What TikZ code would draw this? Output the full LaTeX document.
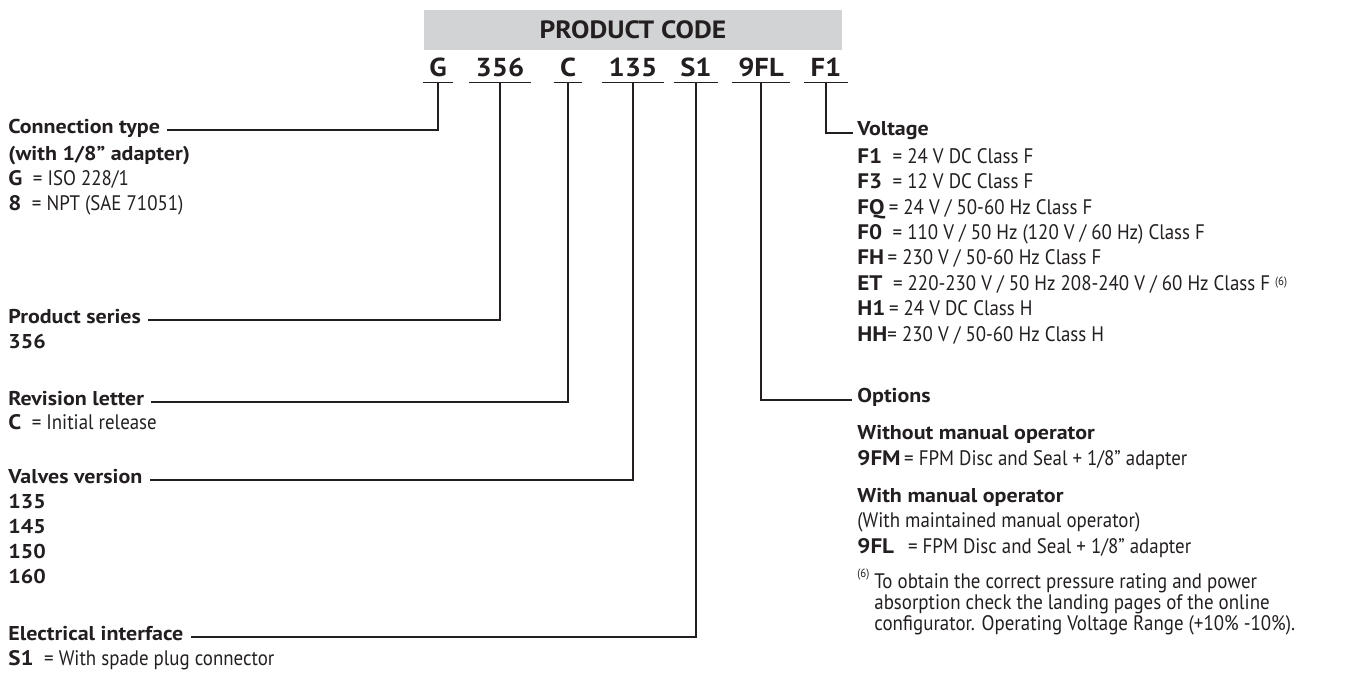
\documentclass[tikz,border=0pt]{standalone}
\usepackage{fontspec}
\setmainfont{PT Sans}[FakeStretch=0.9, BoldFeatures={FakeStretch=1.1}]
\definecolor{ink}{HTML}{231F20}
\definecolor{boxgray}{HTML}{D1D3D4}
\tikzset{
  rule/.style={draw=ink, line width=0.85pt},
  codebox/.style={font=\bfseries\fontsize{13}{15}\selectfont, text=ink, anchor=base,
    inner xsep=3pt, inner ysep=3pt, text depth=0pt},
  head/.style={anchor=west, font=\bfseries, text=ink, inner sep=0pt, text height=7pt, text depth=2pt},
  item/.style={anchor=west, text=ink, inner sep=0pt, text height=7pt, text depth=2pt},
}
\begin{document}
\begin{tikzpicture}[x=0.5pt,y=-0.5pt,font=\fontsize{10.5}{12}\selectfont]
  \useasboundingbox (0,0) rectangle (1351,675);
  % product code header
  \node[fill=boxgray, text=ink, font=\bfseries\fontsize{12.5}{15}\selectfont,
    minimum width=209pt, minimum height=20pt, inner sep=0pt] (hdr) at (633,30) {PRODUCT CODE};
  \node[codebox] (cG) at (438,76) {G};
  \node[codebox] (c356) at (500,76) {356};
  \node[codebox] (cC) at (568,76) {C};
  \node[codebox] (c135) at (633,76) {135};
  \node[codebox] (cS1) at (696,76) {S1};
  \node[codebox] (c9FL) at (761,76) {9FL};
  \node[codebox] (cF1) at (826,76) {F1};
  \foreach \c in {cG,c356,cC,c135,cS1,c9FL,cF1} {
    \draw[rule] (\c.south west) -- (\c.south east);
  }

  % left column
  \node[head] (lCon) at (8,128) {Connection type};
  \node[head] (lCon2) at (8,155) {(with 1/8” adapter)};
  \node[item] (lConG) at (8,180) {\textbf{G}\enspace= ISO 228/1};
  \node[item] (lCon8) at (8,205) {\textbf{8}\enspace= NPT (SAE 71051)};

  \node[head] (lSer) at (8,318) {Product series};
  \node[head] (lSer2) at (8,343) {356};

  \node[head] (lRev) at (8,400) {Revision letter};
  \node[item] (lRevC) at (8,424) {\textbf{C}\enspace= Initial release};

  \node[head] (lVal) at (8,478) {Valves version};
  \foreach \v [count=\i] in {135,145,150,160}
    \node[head] (lVal\v) at (8,{478+25*\i}) {\v};

  \node[head] (lEle) at (8,635) {Electrical interface};
  \node[item] (lEleS) at (8,660) {\textbf{S1}\enspace= With spade plug connector};

  % right column
  \node[head] (lVolt) at (857,130) {Voltage};
  \node[item] (vF1) at (857,158) {\textbf{F1}\enspace= 24 V DC Class F};
  \node[item] (vF3) at (857,183) {\textbf{F3}\enspace= 12 V DC Class F};
  \node[item] (vFQ) at (857,209) {\textbf{FQ}\,= 24 V / 50-60 Hz Class F};
  \node[item] (vF0) at (857,234) {\textbf{F0}\enspace= 110 V / 50 Hz (120 V / 60 Hz) Class F};
  \node[item] (vFH) at (857,259) {\textbf{FH}\,= 230 V / 50-60 Hz Class F};
  \node[item] (vET) at (857,285) {\textbf{ET}\enspace= 220-230 V / 50 Hz 208-240 V / 60 Hz Class F {\fontsize{6}{7}\selectfont\raisebox{2.5pt}{(6)}}};
  \node[item] (vH1) at (857,310) {\textbf{H1}\,= 24 V DC Class H};
  \node[item] (vHH) at (857,336) {\textbf{HH}= 230 V / 50-60 Hz Class H};

  \node[head] (lOpt) at (857,397) {Options};
  \node[head] (lOpt1) at (857,434) {Without manual operator};
  \node[item] (lOpt9FM) at (857,460) {\textbf{9FM}\,= FPM Disc and Seal + 1/8” adapter};
  \node[head] (lOpt2) at (857,497) {With manual operator};
  \node[item] (lOpt2b) at (857,522) {(With maintained manual operator)};
  \node[item] (lOpt9FL) at (857,548) {\textbf{9FL}\enspace\,= FPM Disc and Seal + 1/8” adapter};

  \node[text=ink, font=\fontsize{6}{7}\selectfont, anchor=west, inner sep=0pt] (fnMark) at (857,575) {(6)};
  \node[text=ink, anchor=north west, align=left, inner sep=0pt,
    font=\fontsize{10.5}{10.5}\selectfont] (fnText) at (874,573)
    {To obtain the correct pressure rating and power\\
     absorption check the landing pages of the online\\
     configurator. Operating Voltage Range (+10\% -10\%).};

  % connectors
  \draw[rule] ([xshift=3.5pt,yshift=-1pt]lCon.east) -| (cG.south);
  \draw[rule] ([xshift=3.5pt,yshift=-1pt]lSer.east) -| (c356.south);
  \draw[rule] ([xshift=3.5pt,yshift=-1pt]lRev.east) -| (cC.south);
  \draw[rule] ([xshift=3.5pt,yshift=-1pt]lVal.east) -| (c135.south);
  \draw[rule] ([xshift=3.5pt,yshift=-1pt]lEle.east) -| (cS1.south);
  \draw[rule] (c9FL.south) |- ([xshift=-2.5pt,yshift=-1.5pt]lOpt.west);
  \draw[rule] (cF1.south) |- ([xshift=-2pt,yshift=-1.5pt]lVolt.west);
\end{tikzpicture}
\end{document}
